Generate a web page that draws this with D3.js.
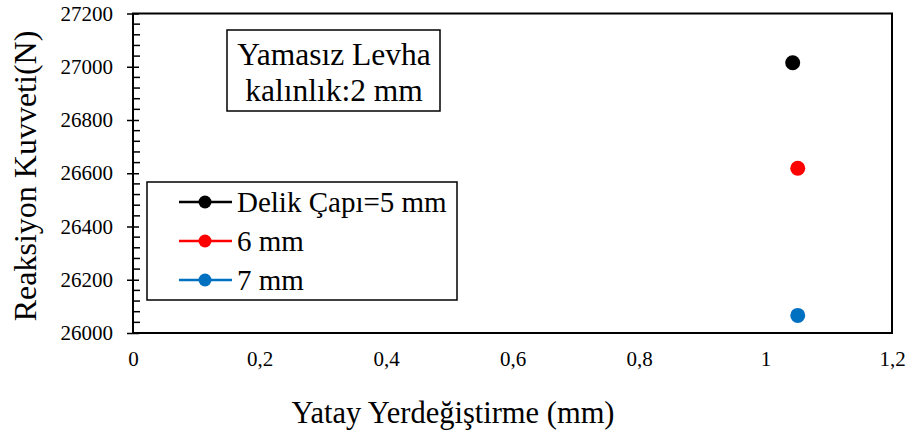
<!DOCTYPE html>
<html>
<head>
<meta charset="utf-8">
<script src="https://cdn.jsdelivr.net/npm/d3@7"></script>
<style>
  body { margin: 0; background: #fff; }
  svg text { font-family: "Liberation Serif", Tinos, "Times New Roman", Times, serif !important; fill: #000; }
</style>
</head>
<body>
<div id="chart"></div>
<script>
// Seriler
const seriesNames = ["Delik Çapı=5 mm", "6 mm", "7 mm"];
const seriesColors = ["#000000", "#ff0000", "#0070c0"];
const xValues = [1.043, 1.051, 1.051];
const yValues = [27015, 26619, 26066];

// Eksen etiketleri
const xTicks = [0, 0.2, 0.4, 0.6, 0.8, 1, 1.2];
const yTicks = [26000, 26200, 26400, 26600, 26800, 27000, 27200];
const infoLines = ["Yamasız Levha", "kalınlık:2 mm"];

const width = 912, height = 439;
const margin = { top: 13.5, right: 20, bottom: 106, left: 133 };

const svg = d3.select("#chart").append("svg")
  .attr("width", width)
  .attr("height", height);

const x = d3.scaleLinear().domain([0, 1.2]).range([margin.left, width - margin.right]);
const y = d3.scaleLinear().domain([26000, 27200]).range([height - margin.bottom, margin.top]);

// Alt eksen (tik yok)
svg.append("g")
  .attr("transform", `translate(0,${y(26000)})`)
  .call(d3.axisBottom(x).tickValues(xTicks).tickSize(0).tickPadding(18)
    .tickFormat(d => String(d).replace(".", ",")))
  .call(g => g.select(".domain").remove())
  .selectAll("text").attr("font-size", "21px");

// Küçük tikler (içe doğru)
const minor = d3.range(26000, 27201, 40).filter(v => v % 200 !== 0);
svg.append("g").selectAll("line").data(minor).join("line")
  .attr("x1", x(0)).attr("x2", x(0) + 7)
  .attr("y1", d => y(d)).attr("y2", d => y(d))
  .attr("stroke", "#000").attr("stroke-width", 1.5);

// Sol eksen
svg.append("g")
  .attr("transform", `translate(${x(0)},0)`)
  .call(d3.axisLeft(y).tickValues(yTicks).tickSizeInner(6).tickSizeOuter(0).tickPadding(14)
    .tickFormat(d3.format("d")))
  .call(g => g.select(".domain").remove())
  .call(g => g.selectAll(".tick line").attr("x2", -6).attr("x1", 6).attr("stroke-width", 1.5))
  .selectAll("text").attr("font-size", "21px");

// Çerçeve
svg.append("rect")
  .attr("x", x(0)).attr("y", y(27200))
  .attr("width", x(1.2) - x(0)).attr("height", y(26000) - y(27200))
  .attr("fill", "none").attr("stroke", "#000").attr("stroke-width", 2);

// Noktalar
svg.append("g").selectAll("circle").data(xValues).join("circle")
  .attr("cx", (d, i) => x(d))
  .attr("cy", (d, i) => y(yValues[i]))
  .attr("r", 7.5)
  .attr("fill", (d, i) => seriesColors[i]);

// Bilgi kutusu
svg.append("rect")
  .attr("x", 227).attr("y", 30).attr("width", 213).attr("height", 81)
  .attr("fill", "#fff").attr("stroke", "#000").attr("stroke-width", 1.5);
svg.append("g").selectAll("text").data(infoLines).join("text")
  .attr("x", 334).attr("y", (d, i) => 65 + i * 36)
  .attr("text-anchor", "middle").attr("font-size", "31.5px")
  .text(d => d);

// Lejant
const legend = svg.append("g");
legend.append("rect")
  .attr("x", 147).attr("y", 182).attr("width", 310).attr("height", 118)
  .attr("fill", "#fff").attr("stroke", "#000").attr("stroke-width", 1.5);
seriesNames.forEach((name, i) => {
  const ly = 202 + i * 39;
  legend.append("line")
    .attr("x1", 179).attr("x2", 232).attr("y1", ly).attr("y2", ly)
    .attr("stroke", seriesColors[i]).attr("stroke-width", 2.5);
  legend.append("circle")
    .attr("cx", 205).attr("cy", ly).attr("r", 6.5).attr("fill", seriesColors[i]);
  legend.append("text")
    .attr("x", 237).attr("y", ly + 10).attr("font-size", "29px")
    .text(name);
});

// Eksen başlıkları
svg.append("text")
  .attr("x", 453).attr("y", 423)
  .attr("text-anchor", "middle").attr("font-size", "30.5px")
  .text("Yatay Yerdeğiştirme (mm)");
svg.append("text")
  .attr("transform", `translate(36,176) rotate(-90)`)
  .attr("text-anchor", "middle").attr("font-size", "32px")
  .text("Reaksiyon Kuvveti(N)");
</script>
</body>
</html>
